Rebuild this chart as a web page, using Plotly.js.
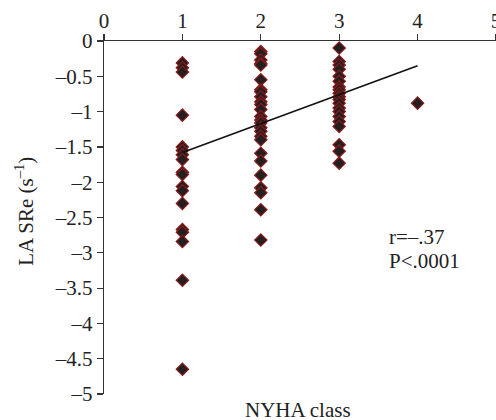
<!DOCTYPE html>
<html>
<head>
<meta charset="utf-8">
<script src="https://cdn.plot.ly/plotly-3.0.1.min.js"></script>
<style>html,body{margin:0;padding:0;background:#fff;}#chart{width:496px;height:420px;}</style>
</head>
<body>
<div id="chart"></div>
<script>
// NYHA class groups and LA SRe values (s^-1)
const class1 = [-0.31, -0.38, -0.44, -1.05, -1.50, -1.55, -1.61, -1.68, -1.86, -1.89, -2.06, -2.12, -2.30, -2.67, -2.71, -2.84, -3.39, -4.65];
const class2 = [-0.15, -0.18, -0.27, -0.32, -0.34, -0.55, -0.69, -0.72, -0.79, -0.86, -0.90, -0.97, -1.07, -1.12, -1.16, -1.23, -1.28, -1.35, -1.40, -1.59, -1.70, -1.90, -2.08, -2.15, -2.39, -2.82];
const class3 = [-0.10, -0.29, -0.34, -0.40, -0.50, -0.57, -0.65, -0.69, -0.74, -0.79, -0.83, -0.88, -0.95, -1.00, -1.07, -1.14, -1.21, -1.47, -1.56, -1.73];
const class4 = [-0.88];
const groups = [1, 2, 3, 4];
const groupValues = [class1, class2, class3, class4];
// regression line end points
const fitX = [1, 4];
const fitY = [-1.58, -0.35];
const xTicks = [0, 1, 2, 3, 4, 5];
const yTicks = [0, -0.5, -1, -1.5, -2, -2.5, -3, -3.5, -4, -4.5, -5];
const yTickText = ['0', '–0.5', '–1', '–1.5', '–2', '–2.5', '–3', '–3.5', '–4', '–4.5', '–5'];

const xs = [], ys = [];
groups.forEach((g, i) => groupValues[i].forEach(v => { xs.push(g); ys.push(v); }));

const FONT = "'Liberation Serif', 'Times New Roman', serif";
const TXT = {family: FONT, size: 21, color: '#222'};
const traces = [
  {x: xs, y: ys, type: 'scatter', mode: 'markers',
   marker: {symbol: 'diamond', size: 9.5, color: '#231f20', line: {color: '#8b1a1a', width: 1.2}},
   hoverinfo: 'skip'},
  {x: fitX, y: fitY, type: 'scatter', mode: 'lines',
   line: {color: '#111', width: 1.6}, hoverinfo: 'skip'}
];
const layout = {
  width: 496, height: 420,
  margin: {l: 104, r: 0, t: 41, b: 26},
  paper_bgcolor: '#fff', plot_bgcolor: '#fff',
  showlegend: false,
  font: TXT,
  xaxis: {range: [0, 5.0001], side: 'top', tickvals: xTicks, ticktext: xTicks.map(String),
          showgrid: false, zeroline: false, showline: true, linecolor: '#333', linewidth: 1.2,
          ticks: 'outside', ticklen: 6, tickwidth: 1.2, tickcolor: '#333', automargin: false,
          ticklabeloverflow: 'allow', ticklabelstandoff: -3, tickfont: TXT},
  yaxis: {range: [-5, 0], tickvals: yTicks, ticktext: yTickText,
          showgrid: false, zeroline: false, showline: true, linecolor: '#333', linewidth: 1.2,
          ticks: 'outside', ticklen: 6, tickwidth: 1.2, tickcolor: '#333', automargin: false,
          tickfont: TXT},
  annotations: [
    {text: 'LA SRe (s<sup>–1</sup>)', textangle: -90, xref: 'paper', yref: 'paper',
     x: -0.2015, y: 0.516, xanchor: 'center', yanchor: 'middle', showarrow: false, font: TXT},
    {text: 'NYHA class', xref: 'paper', yref: 'paper', x: 0.495, y: -0.044,
     xanchor: 'center', yanchor: 'middle', showarrow: false, font: TXT},
    {text: 'r=–.37', xref: 'paper', yref: 'paper', x: 0.722, y: 0.445,
     xanchor: 'left', yanchor: 'middle', showarrow: false, font: TXT},
    {text: 'P<.0001', xref: 'paper', yref: 'paper', x: 0.722, y: 0.377,
     xanchor: 'left', yanchor: 'middle', showarrow: false, font: TXT}
  ]
};
Plotly.newPlot('chart', traces, layout, {staticPlot: true, displayModeBar: false});
</script>
</body>
</html>
